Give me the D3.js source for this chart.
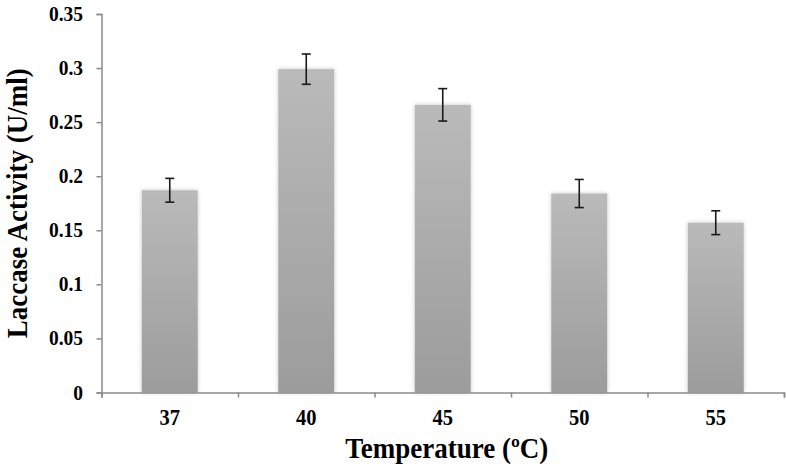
<!DOCTYPE html>
<html>
<head>
<meta charset="utf-8">
<script src="https://cdn.jsdelivr.net/npm/d3@7"></script>
<style>
  body { margin: 0; background: #fff; }
  text { font-family: "Liberation Serif", "Times New Roman", serif; font-weight: bold; fill: #000; }
</style>
</head>
<body>
<div class="visual-data"></div>
<script>
// values
const temperatures = ["37", "40", "45", "50", "55"];
const activity = [0.187, 0.299, 0.266, 0.184, 0.157];
const errors = [0.011, 0.014, 0.015, 0.013, 0.011];
const yTicks = [0, 0.05, 0.1, 0.15, 0.2, 0.25, 0.3, 0.35];
const yTickLabels = ["0", "0.05", "0.1", "0.15", "0.2", "0.25", "0.3", "0.35"];

const width = 786;
const height = 469;
const plotLeft = 101.5, plotRight = 784, plotTop = 14, plotBottom = 392.5;

var svg = d3.select(".visual-data")
            .append("svg")
            .attr("width", width)
            .attr("height", height);

// bar gradient + soft shadow
var defs = svg.append("defs");
var grad = defs.append("linearGradient")
               .attr("id", "barGrad")
               .attr("x1", 0).attr("y1", 0).attr("x2", 0).attr("y2", 1);
grad.append("stop").attr("offset", "0%").attr("stop-color", "#bababa");
grad.append("stop").attr("offset", "100%").attr("stop-color", "#9c9c9c");
var shadow = defs.append("filter")
                 .attr("id", "shadow")
                 .attr("x", "-20%").attr("y", "-10%")
                 .attr("width", "140%").attr("height", "120%");
shadow.append("feDropShadow")
      .attr("dx", 0).attr("dy", 0)
      .attr("stdDeviation", 2)
      .attr("flood-color", "#000")
      .attr("flood-opacity", 0.22);

//Scales
const xScale = d3.scaleBand()
                 .domain(temperatures)
                 .range([plotLeft, plotRight])
                 .paddingInner(0.59)
                 .paddingOuter(0.295);
const yScale = d3.scaleLinear()
                 .domain([0, 0.35])
                 .range([plotBottom, plotTop]);

//Axes
const xAxis = d3.axisBottom(d3.scaleLinear().domain([0, temperatures.length]).range([plotLeft, plotRight]))
                .tickValues(d3.range(temperatures.length + 1))
                .tickSize(5)
                .tickFormat("");
const yAxis = d3.axisLeft(yScale)
                .tickValues(yTicks)
                .tickSize(5)
                .tickFormat("");

var gy = svg.append("g")
            .attr("id", "y-axis")
            .attr("transform", "translate(" + plotLeft + ", 0)")
            .call(yAxis);

// y tick labels, slightly tall like the original figure's type
svg.append("g")
   .selectAll("text")
   .data(yTicks)
   .join("text")
   .attr("transform", d => "translate(83, " + (yScale(d) + 7) + ") scale(1, 1.12)")
   .attr("text-anchor", "end")
   .style("font-size", "19.5px")
   .text((d, i) => yTickLabels[i]);

//Bars
svg.append("g")
   .selectAll("rect")
   .data(activity)
   .join("rect")
   .attr("x", (d, i) => xScale(temperatures[i]))
   .attr("y", d => yScale(d))
   .attr("width", xScale.bandwidth())
   .attr("height", d => plotBottom - yScale(d))
   .attr("fill", "url(#barGrad)")
   .attr("filter", "url(#shadow)");

var gx = svg.append("g")
            .attr("id", "x-axis")
            .attr("transform", "translate(0, " + plotBottom + ")")
            .call(xAxis);

[gx, gy].forEach(g => {
  g.select(".domain").attr("stroke", "#8a8a8a").attr("stroke-width", 1.5);
  g.selectAll(".tick line").attr("stroke", "#8a8a8a").attr("stroke-width", 1.5);
});

//Category labels
svg.append("g")
   .selectAll("text")
   .data(temperatures)
   .join("text")
   .attr("transform", d => "translate(" + (xScale(d) + xScale.bandwidth() / 2) + ", 425) scale(1, 1.15)")
   .attr("text-anchor", "middle")
   .style("font-size", "20.5px")
   .text(d => d);

//Error bars
var err = svg.append("g")
             .attr("stroke", "#1a1a1a")
             .attr("stroke-width", 1.6);
activity.forEach((v, i) => {
  const cx = xScale(temperatures[i]) + xScale.bandwidth() / 2;
  const y1 = yScale(v + errors[i]);
  const y2 = yScale(v - errors[i]);
  err.append("line").attr("x1", cx).attr("x2", cx).attr("y1", y1).attr("y2", y2);
  err.append("line").attr("x1", cx - 4.5).attr("x2", cx + 4.5).attr("y1", y1).attr("y2", y1);
  err.append("line").attr("x1", cx - 4.5).attr("x2", cx + 4.5).attr("y1", y2).attr("y2", y2);
});

//Axis titles
svg.append("text")
   .attr("transform", "translate(" + ((plotLeft + plotRight) / 2 + 4) + ", 458) scale(1, 1.08)")
   .attr("text-anchor", "middle")
   .style("font-size", "27px")
   .text("Temperature (ºC)");
svg.append("text")
   .attr("transform", "translate(27, " + ((plotTop + plotBottom) / 2) + ") rotate(-90) scale(1, 1.08)")
   .attr("text-anchor", "middle")
   .style("font-size", "27px")
   .text("Laccase Activity (U/ml)");
</script>
</body>
</html>
